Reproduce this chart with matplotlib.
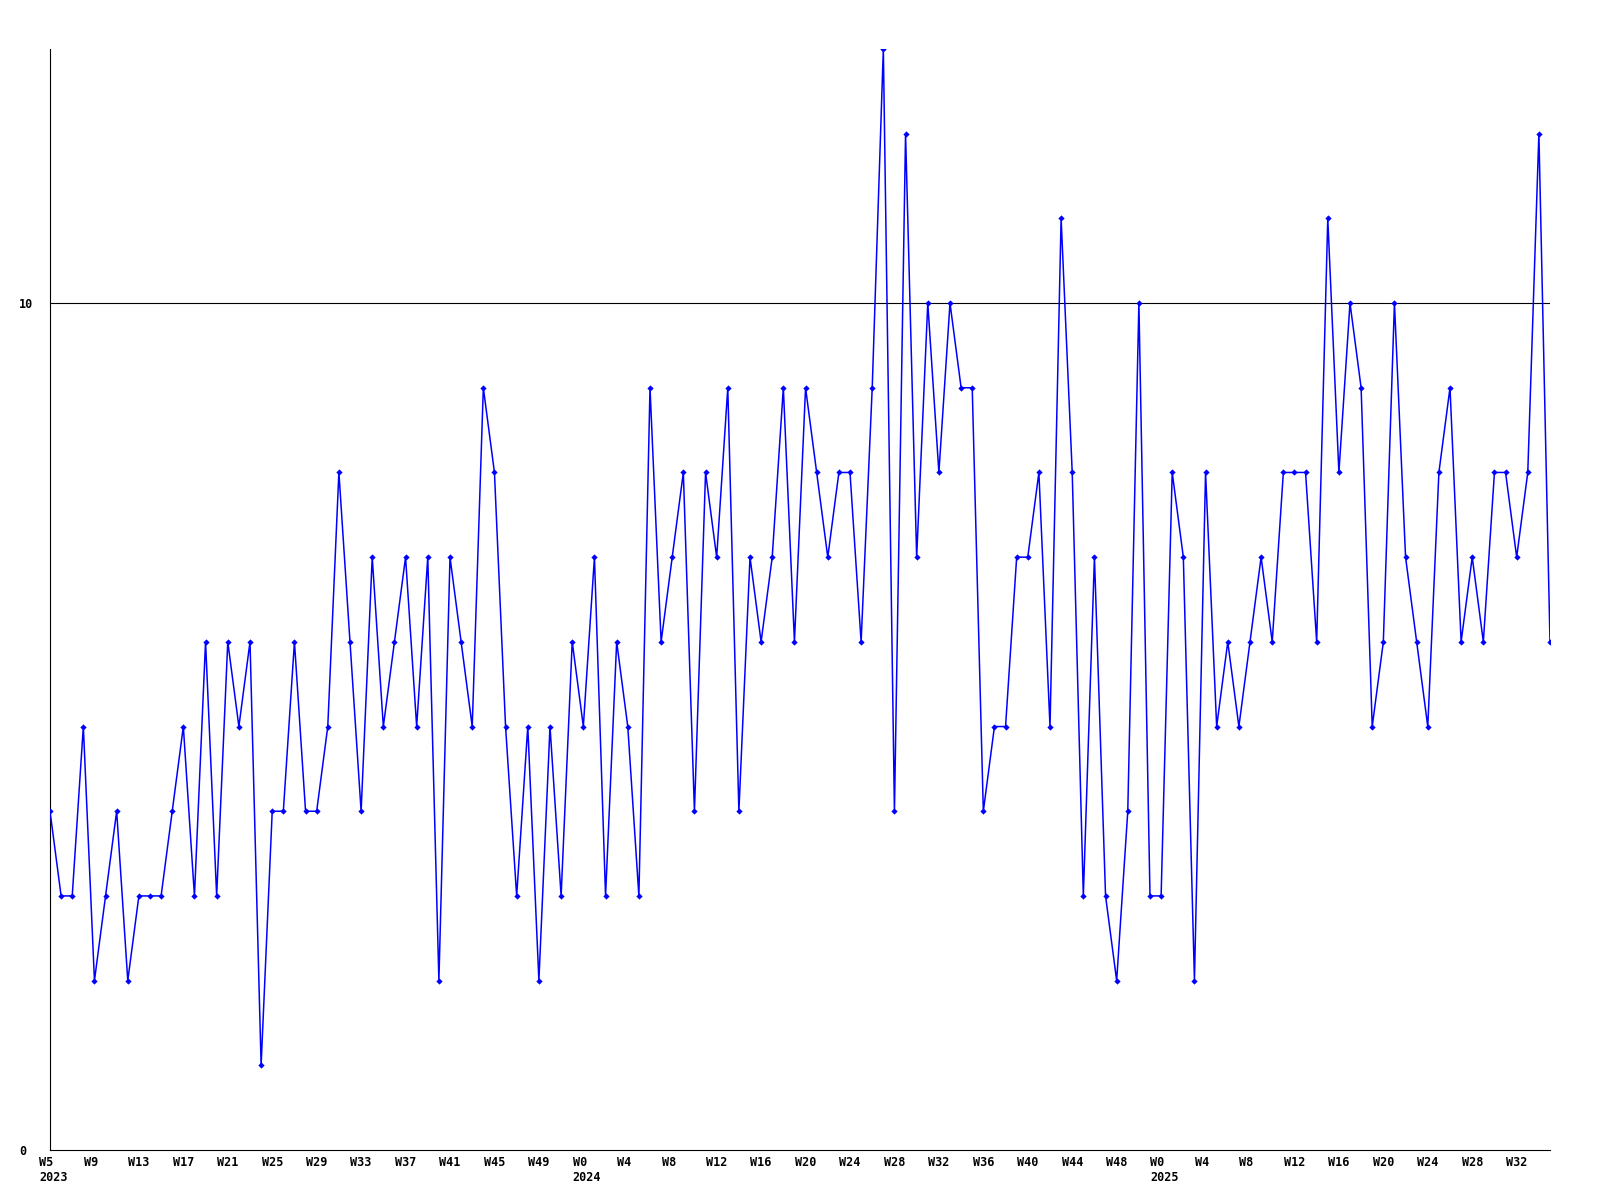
import matplotlib
matplotlib.use("Agg")
import matplotlib.pyplot as plt
from matplotlib.transforms import ScaledTranslation

# weekly counts, W5 2023 .. W35 2025 (one point per week)
counts = [
    4, 3, 3, 5, 2, 3, 4, 2, 3, 3, 3, 4, 5, 3, 6, 3, 6, 5, 6, 1,
    4, 4, 6, 4, 4, 5, 8, 6, 4, 7, 5, 6, 7, 5, 7, 2, 7, 6, 5, 9,
    8, 5, 3, 5, 2, 5, 3, 6, 5, 7, 3, 6, 5, 3, 9, 6, 7, 8, 4, 8,
    7, 9, 4, 7, 6, 7, 9, 6, 9, 8, 7, 8, 8, 6, 9, 13, 4, 12, 7, 10,
    8, 10, 9, 9, 4, 5, 5, 7, 7, 8, 5, 11, 8, 3, 7, 3, 2, 4, 10, 3,
    3, 8, 7, 2, 8, 5, 6, 5, 6, 7, 6, 8, 8, 8, 6, 11, 8, 10, 9, 5,
    6, 10, 7, 6, 5, 8, 9, 6, 7, 6, 8, 8, 7, 8, 12, 6,
]

# one label every 4 weeks; year shown under the first label of each year
tick_labels = [
    "W5\n2023", "W9", "W13", "W17", "W21", "W25", "W29", "W33", "W37",
    "W41", "W45", "W49",
    "W0\n2024", "W4", "W8", "W12", "W16", "W20", "W24", "W28", "W32",
    "W36", "W40", "W44", "W48",
    "W0\n2025", "W4", "W8", "W12", "W16", "W20", "W24", "W28", "W32",
]
label_every = 4

y_ticks = [0, 10]
ref_line = 10

plt.rcParams["font.family"] = "DejaVu Sans Mono"
plt.rcParams["font.weight"] = "bold"
plt.rcParams["font.size"] = 8.5

fig = plt.figure(figsize=(16, 12), dpi=100)
ax = fig.add_axes([50 / 1600, 50 / 1200, 1500 / 1600, 1101 / 1200])

x = list(range(len(counts)))
ax.plot(x, counts, color="#0000ff", lw=1.1, marker="D", ms=3.2, mew=0,
        zorder=3)
ax.axhline(ref_line, color="black", lw=0.8, zorder=2)

ax.set_xlim(0, len(counts) - 1)
ax.set_ylim(0, max(counts))

ax.spines["top"].set_visible(False)
ax.spines["right"].set_visible(False)
for side in ("left", "bottom"):
    ax.spines[side].set_linewidth(0.8)

ax.set_xticks(x[::label_every])
ax.set_xticklabels(tick_labels, ha="left", linespacing=1.27)
ax.tick_params(axis="x", length=0, pad=4)
shift = ScaledTranslation(-10.7 / 100, 0, fig.dpi_scale_trans)
for lab in ax.get_xticklabels():
    lab.set_transform(lab.get_transform() + shift)

ax.set_yticks(y_ticks)
ax.set_yticklabels([str(v) for v in y_ticks], ha="left")
ax.tick_params(axis="y", length=0, pad=22.1)

fig.savefig("out.png", dpi=100)
